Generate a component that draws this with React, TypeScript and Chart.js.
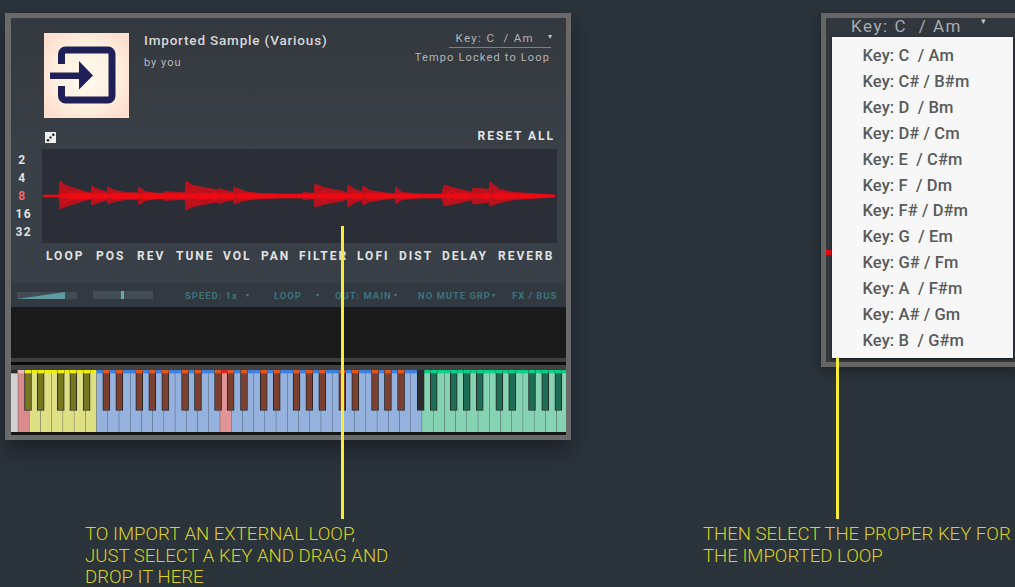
import React, { useEffect, useRef } from "react";
import { Chart, registerables } from "chart.js";

Chart.register(...registerables);

// ---- waveform data (time units along the loop, amplitude units around zero)
const waveTimes = [1, 17, 18, 23, 28, 38, 46, 49, 50, 54, 63, 65, 66, 73, 83, 96, 97, 103, 113, 122, 123, 143, 144, 150, 158, 173, 175, 176, 188, 191, 192, 203, 218, 238, 258, 260, 261, 272, 273, 283, 298, 305, 306, 313, 320, 321, 328, 348, 353, 354, 360, 378, 400, 402, 410, 423, 430, 431, 447, 448, 458, 473, 488, 513];
const waveUpper = [1, 1, 15, 11, 9, 6, 3.5, 3, 10, 7.5, 4.5, 3.5, 9, 5.5, 3.5, 3, 9, 4.5, 3, 2.5, 4.5, 3, 15, 11, 9, 6.5, 6, 7.5, 4.5, 3.5, 9, 4.5, 2.5, 2, 2, 2, 3.5, 2.5, 12, 8, 5.5, 3, 11, 6.5, 4, 10, 5.5, 2.5, 2, 9, 3.5, 2, 2, 11, 8.5, 5.5, 3.5, 8, 6.5, 14, 6.5, 3.5, 2.5, 1];
const waveLower = [1, 1, 13, 11, 9, 6, 3.5, 3, 9, 7.5, 4.5, 3.5, 8, 5.5, 3.5, 3, 9, 4.5, 3, 2.5, 4.5, 3, 14, 11, 9, 6.5, 6, 7.5, 4.5, 3.5, 8, 4.5, 2.5, 2, 2, 2, 3.5, 2.5, 11, 8, 5.5, 3, 11, 6.5, 4, 9, 5.5, 2.5, 2, 8, 3.5, 2, 2, 10, 8.5, 5.5, 3.5, 8, 6.5, 10, 6.5, 3.5, 2.5, 1];
const waveCore = [0.9, 0.9, 1.5, 2, 3, 3.5, 3, 3, 1.5, 2.5, 3, 3, 1.5, 3, 3, 3, 1.5, 3, 3, 3, 2.5, 3, 1.5, 2.5, 3, 3, 2.5, 2, 3, 3, 1.5, 3, 2.5, 2, 2, 2, 2, 2.5, 1.5, 2.5, 2.5, 2.5, 1.5, 2.5, 2.5, 1.5, 2.5, 2.5, 2, 1.5, 2.5, 2, 2, 1.5, 2.5, 2.5, 2.5, 1.5, 2.5, 1.5, 2.5, 2.5, 2.5, 1];
const waveStrand = [0, 0, 0, 7, 3, -3, 1, 0, 0, 5, -2, 0, 0, 3, -1, 0, 0, 3, 0, 0, 0, 0, 0, 8, 3, -4, -3, 0, -2, 0, 0, 3, 0, 0, 0, 0, 0, 0, 0, 5, -3, 0, 0, 3, 0, 0, 3, 0, 0, 0, 2, 0, 0, 0, 6, -3, 0, 0, -3, 0, 4, 0, 0, 0];

// ---- keyboard data
const whiteKeyNumbers = [-1, 0, 1, 2, 3, 4, 5, 6, 7, 8, 9, 10, 11, 12, 13, 14, 15, 16, 17, 18, 19, 20, 21, 22, 23, 24, 25, 26, 27, 28, 29, 30, 31, 32, 33, 34, 35, 36, 37, 38, 39, 40, 41, 42, 43, 44, 45, 46, 47, 48];
const whiteKeyZones = ["grey", "pink", "yellow", "yellow", "yellow", "yellow", "yellow", "yellow", "blue", "blue", "blue", "blue", "blue", "blue", "blue", "blue", "blue", "blue", "blue", "rose", "blue", "blue", "blue", "blue", "blue", "blue", "blue", "blue", "blue", "blue", "blue", "blue", "blue", "blue", "blue", "blue", "blue", "green", "green", "green", "green", "green", "green", "green", "green", "green", "green", "green", "green", "green"];
const blackKeyPositions = [0.89, 2.02, 3.81, 4.93, 6.12, 7.87, 9.03, 10.81, 11.97, 13.13, 14.89, 16.04, 17.83, 18.95, 20.14, 21.9, 23.06, 24.82, 25.97, 27.12, 28.9, 30.06, 31.82, 32.97, 34.14, 35.89, 37.05, 38.83, 39.99, 41.15, 42.9, 44.05, 45.81, 46.99, 48.16];
const blackKeyZones = ["yellow", "yellow", "yellow", "yellow", "yellow", "blue", "blue", "blue", "blue", "blue", "blue", "blue", "blue", "blue", "blue", "blue", "blue", "blue", "blue", "blue", "blue", "blue", "blue", "blue", "blue", "none", "green", "green", "green", "green", "green", "green", "green", "green", "green"];

const whiteFill: Record<string, string> = { grey: "#d2d2d2", pink: "#d98a8c", rose: "#e09497", yellow: "#dfdf84", blue: "#95b1de", green: "#86d3b3" };
const whiteTop: Record<string, string> = { grey: "#2a2a2a", pink: "#edb8b8", rose: "#e02828", yellow: "#eeee10", blue: "#3d80e0", green: "#0bd088" };
const blackFill: Record<string, string> = { yellow: "#777720", blue: "#7b402f", none: "#2c2c2c", green: "#1d6e54" };
const blackTop: Record<string, string> = { yellow: "#eeee10", blue: "#e2561f", none: "#2c2c2c", green: "#0bd088" };

// ---- text
const knobLabels: [string, number][] = [["LOOP", 46], ["POS", 96], ["REV", 137], ["TUNE", 176], ["VOL", 223], ["PAN", 261], ["FILTER", 299], ["LOFI", 357], ["DIST", 399], ["DELAY", 442], ["REVERB", 498]];
const divisionLabels = ["2", "4", "8", "16", "32"];
const statusLabels: [string, number][] = [["SPEED: 1x", 185], ["LOOP", 274], ["OUT: MAIN", 335], ["NO MUTE GRP", 418], ["FX / BUS", 512]];
const keyOptions = ["Key: C  / Am", "Key: C# / B#m", "Key: D  / Bm", "Key: D# / Cm", "Key: E  / C#m", "Key: F  / Dm", "Key: F# / D#m", "Key: G  / Em", "Key: G# / Fm", "Key: A  / F#m", "Key: A# / Gm", "Key: B  / G#m"];

const FONT = "Roboto, sans-serif";

function Box({ x, y, w, h, style }: any) {
  return <div style={{ position: "absolute", left: x, top: y, width: w, height: h, ...style }} />;
}

function T({ x, y, size, color, weight = 400, ls = 0, right, children }: any) {
  const pos: any = right !== undefined ? { right: 1015 - right } : { left: x };
  return (
    <div style={{ position: "absolute", top: y, transform: "translateY(-50%)", ...pos, fontFamily: FONT, fontSize: size, color, fontWeight: weight, letterSpacing: ls, whiteSpace: "pre", lineHeight: 1 }}>
      {children}
    </div>
  );
}

function Waveform() {
  const ref = useRef<HTMLCanvasElement>(null);
  useEffect(() => {
    const pts = (sign: number, arr: number[]) => waveTimes.map((t, i) => ({ x: t, y: sign * arr[i] }));
    const line = { pointRadius: 0, borderWidth: 0, tension: 0 };
    const strand = { ...line, fill: false, borderWidth: 1, borderColor: "rgba(240,10,20,0.85)" };
    const chart = new Chart(ref.current!, {
      type: "line",
      data: {
        datasets: [
          { ...line, data: pts(1, waveCore), fill: "+1", backgroundColor: "#ee0a12", borderColor: "#ee0a12" },
          { ...line, data: pts(-1, waveCore), fill: false, borderColor: "#ee0a12" },
          { ...strand, data: pts(1, waveStrand) },
          { ...strand, data: pts(-1, waveStrand) },
          { ...line, data: pts(1, waveUpper), fill: "+1", backgroundColor: "#b8121e", borderWidth: 0.8, borderColor: "#c81018" },
          { ...line, data: pts(-1, waveLower), fill: false, borderWidth: 0.8, borderColor: "#c81018" },
        ] as any,
      },
      options: {
        animation: false,
        responsive: false,
        layout: { padding: 0 },
        plugins: { legend: { display: false }, tooltip: { enabled: false } },
        scales: {
          x: { type: "linear", min: 0, max: 515, display: false },
          y: { type: "linear", min: -47, max: 47, display: false },
        },
      },
    });
    return () => chart.destroy();
  }, []);
  return <canvas ref={ref} width={515} height={94} style={{ position: "absolute", left: 42, top: 149, width: 515, height: 94 }} />;
}

function Keyboard() {
  const ref = useRef<HTMLCanvasElement>(null);
  useEffect(() => {
    const white = whiteKeyNumbers.map((k) => k + 0.5);
    const bar = { grouped: false, borderSkipped: false };
    const chart = new Chart(ref.current!, {
      type: "bar",
      data: {
        datasets: [
          { ...bar, data: blackKeyPositions.map((x) => ({ x, y: [59, 62] })), barThickness: 6, backgroundColor: blackKeyZones.map((z) => blackTop[z]) },
          { ...bar, data: blackKeyPositions.map((x) => ({ x, y: [21.5, 62] })), barThickness: 7, borderWidth: 1, borderColor: "#262626", backgroundColor: blackKeyZones.map((z) => blackFill[z]) },
          { ...bar, data: white.map((x) => ({ x, y: [59, 62] })), barThickness: 11.22, backgroundColor: whiteKeyZones.map((z) => whiteTop[z]) },
          { ...bar, data: white.map((x) => ({ x, y: [0, 62] })), barThickness: 10.2, backgroundColor: whiteKeyZones.map((z) => whiteFill[z]) },
        ] as any,
      },
      options: {
        animation: false,
        responsive: false,
        layout: { padding: 0 },
        plugins: { legend: { display: false }, tooltip: { enabled: false } },
        scales: {
          x: { type: "linear", min: -0.624, max: 48.84, display: false, offset: false },
          y: { type: "linear", min: 0, max: 62, display: false },
        },
      },
    });
    return () => chart.destroy();
  }, []);
  return <canvas ref={ref} width={555} height={62} style={{ position: "absolute", left: 11, top: 370, width: 555, height: 62, background: "#3f4a54" }} />;
}

function ExitIcon() {
  return (
    <svg width={85} height={85} viewBox="0 0 85 85" style={{ position: "absolute", left: 44, top: 33 }}>
      <defs>
        <radialGradient id="g" cx="50%" cy="50%" r="60%">
          <stop offset="0%" stopColor="#fffbef" />
          <stop offset="60%" stopColor="#fff0df" />
          <stop offset="100%" stopColor="#fddfcf" />
        </radialGradient>
      </defs>
      <rect width={85} height={85} fill="url(#g)" />
      <path d="M17.5 31 V21 a4 4 0 0 1 4-4 H64 a4 4 0 0 1 4 4 V63 a4 4 0 0 1-4 4 H21.5 a4 4 0 0 1-4-4 V53" fill="none" stroke="#1f2058" strokeWidth={7} strokeLinecap="butt" />
      <rect x={6} y={39.5} width={30} height={6.5} fill="#1f2058" />
      <path d="M35 28 L49 42.5 L35 56.5 Z" fill="#1f2058" />
    </svg>
  );
}

export default function App() {
  useEffect(() => {
    document.body.style.margin = "0";
    document.body.style.background = "#2b333b";
  }, []);
  return (
    <div style={{ position: "fixed", left: 0, top: 0, width: 1015, height: 587, overflow: "hidden", background: "#2b333b", filter: "blur(0.35px)" }}>
      {/* left panel */}
      <Box x={5} y={13} w={566} h={427} style={{ background: "#6a6a6a", boxShadow: "0 10px 22px rgba(0,0,0,0.38)" }} />
      <Box x={11} y={18} w={555} h={265} style={{ background: "linear-gradient(180deg,#34393f 0%,#3a4047 55%,#383f46 100%)" }} />
      <Box x={11} y={283} w={555} h={24} style={{ background: "#323940" }} />
      <Box x={11} y={307} w={555} h={51} style={{ background: "#1a1a1a" }} />
      <Box x={11} y={358} w={555} h={4} style={{ background: "#3f3f3f" }} />
      <Box x={11} y={362} w={555} h={3} style={{ background: "#0c0c0c" }} />
      <Box x={11} y={365} w={555} h={5} style={{ background: "#404040" }} />
      <Box x={11} y={432} w={555} h={3} style={{ background: "#161616" }} />

      <ExitIcon />
      <T x={144} y={40.5} size={13.5} color="#d8d8d8" weight={500} ls={0.82}>Imported Sample (Various)</T>
      <T x={144} y={62} size={11} color="#b8b8b8" ls={1}>by you</T>
      <T right={534} y={39} size={11.5} color="#b4b4b4" ls={1.32}>{"Key: C  / Am"}</T>
      <T right={552} y={37} size={8} color="#c0c0c0">▾</T>
      <Box x={449} y={47} w={102} h={1} style={{ background: "#7c8084" }} />
      <T right={550} y={57} size={11} color="#b4b4b4" ls={1.16}>Tempo Locked to Loop</T>

      <svg width={11} height={11} viewBox="0 0 11 11" style={{ position: "absolute", left: 45, top: 132 }}>
        <rect width={11} height={11} fill="#eeeeee" />
        <circle cx={3} cy={8.2} r={1.3} fill="#222" />
        <circle cx={5.5} cy={5.5} r={1.2} fill="#333" />
        <circle cx={8.3} cy={2.8} r={1.3} fill="#222" />
      </svg>
      <T right={555} y={136} size={12} color="#e4e4e4" weight={700} ls={1.95}>RESET ALL</T>

      <Box x={42} y={149} w={515} h={94} style={{ background: "#2c2e37" }} />
      <Waveform />

      {divisionLabels.map((d, i) => (
        <T key={d} right={d.length > 1 ? 32 : 26.5} y={160 + i * 17.9} size={12} color={d === "8" ? "#e86a6e" : "#e0e0e0"} weight={700} ls={1.4}>{d}</T>
      ))}
      {knobLabels.map(([l, x]) => (
        <T key={l} x={x} y={255.5} size={12} color="#e2e2e2" weight={700} ls={2}>{l}</T>
      ))}

      <Box x={17} y={292} w={60} h={7} style={{ background: "#414c53" }} />
      <Box x={17} y={292} w={48} h={7} style={{ background: "#5f9aa2", clipPath: "polygon(0 100%, 100% 0, 100% 100%)" }} />
      <Box x={93} y={291} w={60} h={8} style={{ background: "#414c53" }} />
      <Box x={121} y={291} w={3} h={8} style={{ background: "#6aa6ae" }} />
      {statusLabels.map(([l, x]) => (
        <T key={l} x={x} y={295.5} size={9.5} color="#3f737c" weight={700} ls={0.95}>{l}</T>
      ))}
      <T x={246} y={295} size={6} color="#4e8088">▾</T>
      <T x={316} y={295} size={6} color="#4e8088">▾</T>
      <T x={394} y={295} size={6} color="#4e8088">▾</T>
      <T x={492} y={295} size={6} color="#4e8088">▾</T>

      <Keyboard />

      {/* right panel */}
      <Box x={821} y={13} w={200} h={354} style={{ background: "#666666", boxShadow: "0 4px 12px rgba(0,0,0,0.35)" }} />
      <Box x={826} y={18} w={190} h={344} style={{ background: "#32363d" }} />
      <T x={851} y={25.5} size={17} color="#a9abad" ls={1.55}>{"Key: C  / Am"}</T>
      <T x={981} y={21} size={9} color="#c0c0c0">▾</T>
      <Box x={826} y={250} w={6} h={5} style={{ background: "#e00a10" }} />
      <Box x={832} y={37} w={181} h={321} style={{ background: "#f7f7f7", boxShadow: "0 1px 2px rgba(0,0,0,0.7)" }} />
      {keyOptions.map((k, i) => (
        <T key={k} x={862.5} y={56 + i * 25.9} size={16.5} color="#585a5b" weight={500} ls={0.1}>{k}</T>
      ))}

      {/* callouts */}
      <Box x={341} y={226} w={2.6} h={293} style={{ background: "#f6ec3c" }} />
      <Box x={836} y={358} w={2.6} h={161} style={{ background: "#f6ec3c" }} />
      {["TO IMPORT AN EXTERNAL LOOP,", "JUST SELECT A KEY AND DRAG AND", "DROP IT HERE"].map((s, i) => (
        <T key={s} x={85} y={534 + i * 21.5} size={18.6} color="#dcd21e" weight={300}>{s}</T>
      ))}
      {["THEN SELECT THE PROPER KEY FOR", "THE IMPORTED LOOP"].map((s, i) => (
        <T key={s} x={703} y={534 + i * 21.5} size={18.6} color="#dcd21e" weight={300}>{s}</T>
      ))}
    </div>
  );
}
